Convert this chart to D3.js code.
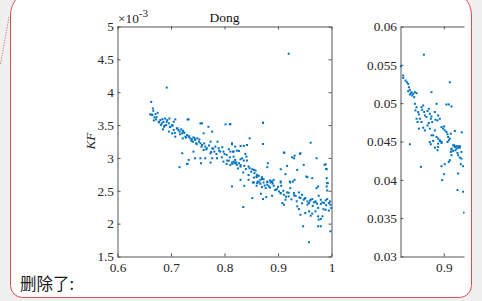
<!DOCTYPE html>
<html lang="zh">
<head>
<meta charset="UTF-8" />
<title>Dong KF scatter</title>
<script src="https://d3js.org/d3.v7.min.js"></script>
<style>
  body { margin: 0; background: #f0f0f0; }
  svg { display: block; }
  .serif { font-family: "Liberation Serif", "DejaVu Serif", serif; }
</style>
</head>
<body>
<div id="chart"></div>
<script>
// left panel "Dong": KF (x 1e-3) against x
const kfX = [
  .663,.666,.667,.661,.665,.671,.675,.669,.672,.677,.680,.683,.686,.681,.689,.693,.697,.687,.691,.696,
  .685,.699,.702,.705,.708,.696,.702,.705,.711,.714,.716,.708,.719,.722,.721,.725,.730,.727,.733,.722,
  .733,.736,.739,.742,.745,.741,.749,.752,.747,.755,.758,.761,.758,.764,.770,.777,.774,.767,.761,.777,
  .783,.789,.796,.781,.792,.798,.802,.810,.787,.814,.808,.811,.817,.817,.804,.774,.777,.786,.742,.721,
  .755,.764,.733,.745,.730,.756,.774,.798,.804,.808,.820,.811,
  .716,.731,.731,.755,.872,.872,.847,.911,.930,.942,.961,.972,.948,.987,.990,.953,.964,.991,.992,
  .814,.835,.852,.837,.855,.861,.867,.873,.880,.886,.889,.860,.870,.877,.883,.892,.905,.906,.923,.928,
  .868,.878,.872,.889,.895,.898,.902,.905,.911,.917,.920,.914,.908,.911,.923,.930,.933,.939,.942,.945,
  .948,.951,.955,.958,.961,.964,.967,.970,.973,.975,.972,.976,.980,.983,.986,.989,.992,.995,.997,.998,
  .936,.939,.942,.951,.958,.961,.964,.970,.975,.976,.980,.983,.989,.991,.993,.992,.9995,.998,.947,.975,
  .980,.958,
  .872,.814,.820,.830,.836,.842,.816,.823,.827,.839,.841,.833,.830,.820,.817,.822,.827,.814,.836,.842,
  .823,.830,.837,.845,.847,.852,.855,.858,.856,.861,.864,.860,.912,.926,.931,.941,.917,.905,.881,.880,
  .936,.914,.955,.989,.991,.830,.845,.853,.862,.867,.870,.873,.880,.885,.889,.892,.905,.922,.931,.811,
  .692,.920,
  .664,.668,.673,.678,.684,.688,.692,.698,.703,.707,.712,.717,.723,.728,.734,.738,.744,.748,.753,.757,
  .762,.766,.771,.775,.779,.785,.790,.795,.800,.805,.810,.815,.820,.825,.830,.835,.840,.845,.850,.855,
  .860,.865,.870,.875,.880,.885,.890,.895,.900,.905,.910,.915,.920,.925,.930,.935,.940,.945,.950,.955,
  .960,.965,.970,.975,.980,.985,.990,.995
]
const kfY = [
  3.853,3.753,3.717,3.662,3.652,3.667,3.687,3.617,3.586,3.550,3.576,3.526,3.550,3.500,3.600,3.576,3.600,3.474,3.500,3.526,
  3.435,3.474,3.500,3.550,3.586,3.400,3.374,3.424,3.450,3.424,3.400,3.323,3.435,3.414,3.374,3.383,3.348,3.323,3.586,3.298,
  3.323,3.298,3.283,3.313,3.273,3.247,3.298,3.247,3.223,3.223,3.526,3.374,3.197,3.172,3.474,3.400,3.247,3.147,3.121,3.147,
  3.172,3.147,3.162,3.096,3.096,3.096,3.511,3.511,3.247,3.223,3.132,3.096,3.096,3.020,3.045,3.071,2.995,2.995,3.096,3.071,
  2.995,2.995,2.970,2.995,2.909,2.920,2.929,2.944,2.909,2.959,2.920,2.894,
  2.859,2.909,3.586,3.526,3.535,3.212,3.298,3.080,2.995,3.071,3.232,2.995,2.894,2.894,2.833,2.717,2.692,2.692,2.617,
  2.566,2.253,2.389,2.576,2.626,2.616,2.606,2.626,2.591,2.626,2.641,2.576,2.556,2.540,2.566,2.576,2.626,2.576,2.626,2.641,
  2.455,2.404,2.374,2.424,2.515,2.525,2.490,2.465,2.439,2.475,2.414,2.364,2.313,2.288,2.540,2.465,2.424,2.475,2.389,2.439,
  2.364,2.389,2.338,2.313,2.364,2.374,2.323,2.338,2.303,2.566,2.540,2.424,2.364,2.323,2.313,2.354,2.374,2.313,2.338,2.288,
  2.263,2.222,2.136,2.162,2.187,2.121,2.152,2.187,2.111,2.061,2.071,2.111,2.212,2.566,2.616,2.505,2.237,1.884,1.960,1.960,
  1.960,1.717,
  3.535,3.207,3.172,3.182,3.182,3.197,3.096,3.111,3.106,3.061,3.020,2.995,2.980,2.970,2.944,2.929,2.919,2.929,2.960,2.960,
  2.894,2.869,2.879,2.869,2.843,2.828,2.818,2.808,2.768,2.742,2.727,2.707,3.081,3.010,3.035,3.061,2.879,2.828,2.919,2.859,
  2.818,2.753,2.707,2.904,2.828,2.667,2.667,2.626,2.641,2.667,2.707,2.677,2.641,2.657,2.641,2.667,2.641,2.641,2.667,3.515,
  4.071,4.586,
  3.66,3.57,3.62,3.54,3.59,3.49,3.55,3.47,3.49,3.38,3.45,3.36,3.40,3.31,3.33,3.26,3.30,3.21,3.28,3.17,
  3.22,3.13,3.19,3.09,3.14,3.06,3.11,3.01,3.06,2.96,3.01,2.91,2.93,2.84,2.89,2.78,2.83,2.74,2.79,2.70,
  2.72,2.63,2.68,2.58,2.63,2.55,2.61,2.51,2.56,2.46,2.50,2.41,2.47,2.37,2.43,2.34,2.40,2.31,2.38,2.29,
  2.35,2.27,2.33,2.24,2.30,2.22,2.28,2.20
]
const xTicks = [0.6, 0.7, 0.8, 0.9, 1]
const yTicks = [1.5, 2, 2.5, 3, 3.5, 4, 4.5, 5]

// right panel (cut off by the frame)
const rX = [
  .8207,.8631,.8250,.8250,.8293,.8318,.8342,.8355,.8373,.8342,.8404,.8434,.8373,.8391,.8416,.8465,.8496,.8453,.8772,.9110,
  .8865,.9049,.9092,.9141,.8465,.8496,.8477,.8527,.8539,.8588,.8600,.8619,.8637,.8650,.8557,.8588,.8680,.8699,.8723,.8742,
  .8760,.8772,.8785,.8834,.8846,.8883,.8895,.8926,.8496,.8514,.8539,.8619,.8650,.8699,.8723,.8742,.8772,.8803,.8834,.8865,
  .8895,.8926,.8957,.8987,.9018,.9006,.9049,.9067,.9080,.9092,.9110,.9129,.9203,.8957,.8742,.8895,.8760,.9172,.9203,.9233,
  .9264,.9295,.9141,.9233,.8373,.8834,.8803,.8926,.8957,.8895,.9067,.9190,.9233,.9276,.9295,.9141,.9172,.9129,.9215,.9252,
  .9325,.9264,.9295,.9325,.9141,.8883,.9110,.9092,.9018,.8957,.9313,.9356,.9264,.9006,.8969,.8576,.9252,.9356,.9374,.9330
]
const rY = [
  .05481,.05632,.05360,.05329,.05295,.05273,.05251,.05208,.05174,.05156,.05143,.05122,.05113,.05130,.05100,.05143,.05130,.05078,.05143,.05273,
  .04992,.04983,.04983,.04957,.04992,.04948,.04905,.04884,.04853,.04948,.04914,.04970,.04884,.04840,.04797,.04754,.04819,.04897,.04927,.04862,
  .04797,.04827,.04754,.04884,.04784,.04775,.04840,.04797,.04797,.04754,.04667,.04680,.04645,.04710,.04741,.04667,.04581,.04581,.04645,.04559,
  .04537,.04516,.04689,.04667,.04645,.04697,.04624,.04594,.04559,.04516,.04537,.04602,.04637,.04494,.04494,.04429,.04464,.04450,.04429,.04438,
  .04420,.04438,.04407,.04407,.04464,.04420,.04507,.04507,.04481,.04472,.04494,.04451,.04438,.04438,.04420,.04394,.04377,.04364,.04386,.04351,
  .04364,.04321,.04290,.04277,.04321,.04386,.04256,.04234,.04204,.04178,.04204,.04178,.04083,.04074,.03996,.04169,.03866,.03845,.03572,.04620
]
const rXTicks = [0.9]
const rYTicks = [0.03, 0.035, 0.04, 0.045, 0.05, 0.055, 0.06]

const width = 482
const height = 301
const fmt = d3.format("~g")
const axisColor = "#555"
const dotColor = "#0072BD"

const svg = d3.select("#chart").append("svg")
    .attr("width", width)
    .attr("height", height)

svg.append("rect").attr("width", width).attr("height", height).attr("fill", "#f0f0f0")

// comment frame
svg.append("path")
    .attr("d", "M10.5,15 A25,25 0 0 1 35.5,-10 L446.5,-10 A25,25 0 0 1 471.5,15 L471.5,285.5 A12,12 0 0 1 459.5,297.5 L22.5,297.5 A12,12 0 0 1 10.5,285.5 Z")
    .attr("fill", "#fff")
    .attr("stroke", "#dc4f4f")
    .attr("stroke-width", 1)
svg.append("line")
    .attr("x1", 0.5).attr("y1", 64).attr("x2", 9).attr("y2", 17)
    .attr("stroke", "#e06a6a")
    .attr("stroke-dasharray", "1.2,1.4")

function drawPanel(g, opt) {
    const x = d3.scaleLinear().domain(opt.xDomain).range(opt.xRange)
    const y = d3.scaleLinear().domain(opt.yDomain).range(opt.yRange)
    const [x0, x1] = opt.xRange
    const [y0, y1] = opt.yRange

    const style = a => a
        .attr("font-family", null)
        .attr("font-size", null)
        .call(s => s.selectAll(".domain").attr("stroke", axisColor))
        .call(s => s.selectAll(".tick line").attr("stroke", axisColor))
        .call(s => s.selectAll("text")
            .attr("class", "serif")
            .style("font-size", "13.3px")
            .attr("fill", "#262626"))

    g.append("g")
        .attr("transform", `translate(0,${y0})`)
        .call(d3.axisBottom(x).tickValues(opt.xTicks).tickFormat(fmt)
            .tickSize(-3).tickSizeOuter(0).tickPadding(6))
        .call(style)
    g.append("g")
        .attr("transform", `translate(0,${y1})`)
        .call(d3.axisTop(x).tickValues(opt.xTicks).tickFormat("")
            .tickSize(-3).tickSizeOuter(0))
        .call(style)
    g.append("g")
        .attr("transform", `translate(${x0},0)`)
        .call(d3.axisLeft(y).tickValues(opt.yTicks).tickFormat(fmt)
            .tickSize(-3).tickSizeOuter(0).tickPadding(3.5))
        .call(style)
    if (opt.rightAxis) {
        g.append("g")
            .attr("transform", `translate(${x1},0)`)
            .call(d3.axisRight(y).tickValues(opt.yTicks).tickFormat("")
                .tickSize(-3).tickSizeOuter(0))
            .call(style)
    }

    g.append("g")
        .attr("fill", dotColor)
        .selectAll("rect")
        .data(d3.range(opt.xs.length))
        .join("rect")
        .attr("x", i => x(opt.xs[i]) - 1)
        .attr("y", i => y(opt.ys[i]) - 1)
        .attr("width", 2)
        .attr("height", 2)
}

const left = svg.append("g")
drawPanel(left, {
    xs: kfX, ys: kfY,
    xDomain: [0.6, 1], xRange: [117.5, 331.5],
    yDomain: [1.5, 5], yRange: [256.5, 26.5],
    xTicks: xTicks, yTicks: yTicks, rightAxis: true
})

left.append("text")
    .attr("class", "serif")
    .attr("x", 224.5).attr("y", 22)
    .attr("text-anchor", "middle")
    .style("font-size", "13.5px").attr("fill", "#111")
    .text("Dong")

const expLabel = left.append("text")
    .attr("class", "serif")
    .attr("x", 118).attr("y", 23)
    .style("font-size", "13.3px").attr("fill", "#262626")
expLabel.append("tspan").text("×10")
expLabel.append("tspan").attr("dy", -6).style("font-size", "11px").text("-3")

left.append("text")
    .attr("class", "serif")
    .attr("transform", "translate(95,141) rotate(-90)")
    .attr("text-anchor", "middle")
    .style("font-size", "13.3px")
    .attr("font-style", "italic").attr("fill", "#262626")
    .text("KF")

// right panel, cut off at the frame edge
svg.append("clipPath").attr("id", "cut")
    .append("rect").attr("x", 330).attr("y", 0).attr("width", 134.5).attr("height", height)
const right = svg.append("g").attr("clip-path", "url(#cut)")
drawPanel(right, {
    xs: rX, ys: rY,
    xDomain: [0.82, 1], xRange: [400.5, 498],
    yDomain: [0.03, 0.06], yRange: [256.5, 26.5],
    xTicks: rXTicks, yTicks: rYTicks, rightAxis: false
})

svg.append("text")
    .attr("x", 20).attr("y", 290)
    .attr("font-family", "'Noto Sans CJK SC', sans-serif")
    .attr("font-size", 16.5).attr("fill", "#1a1a1a")
    .text("删除了:")
</script>
</body>
</html>
